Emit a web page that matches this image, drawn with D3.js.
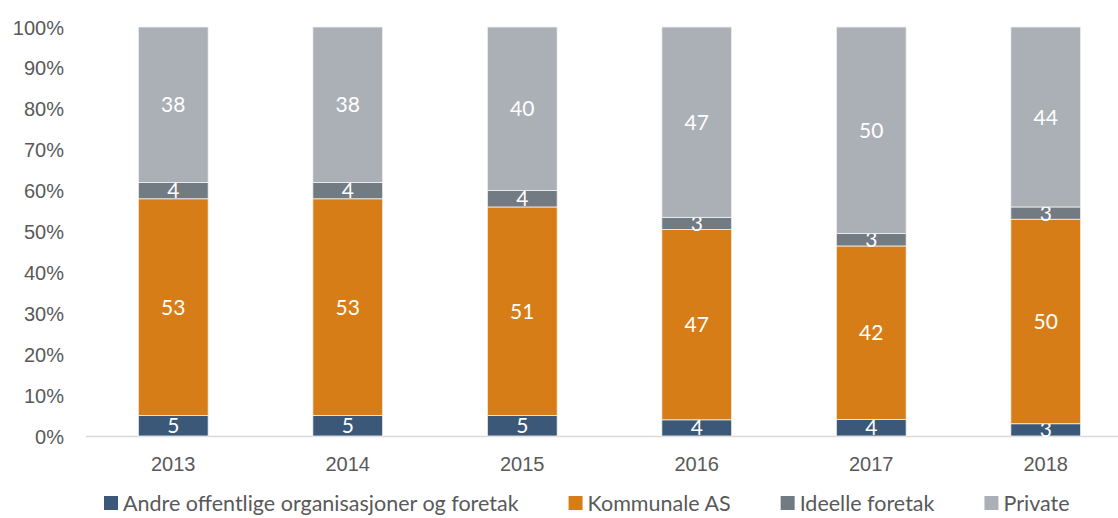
<!DOCTYPE html>
<html>
  <head>
    <meta charset="utf-8">
    <title></title>
  </head>
  <style>
  body{
      margin: 0;
      font-family: "Lato", "Open Sans", sans-serif;
      background: #fff;
    }
  .axis-y .domain, .axis-x .domain { display: none; }
  .axis-y .tick line, .axis-x .tick line { display: none; }
  .tick text { fill: #595959; font-size: 20px; }
  </style>
  <script src="https://d3js.org/d3.v7.min.js"></script>
  <body>
    <script>
    // data
    const years = ["2013", "2014", "2015", "2016", "2017", "2018"]
    const seriesNames = ["Andre offentlige organisasjoner og foretak", "Kommunale AS", "Ideelle foretak", "Private"]
    const andre = [5, 5, 5, 4, 4, 3]
    const kommunale = [53, 53, 51, 47, 42, 50]
    const ideelle = [4, 4, 4, 3, 3, 3]
    const privat = [38, 38, 40, 47, 50, 44]
    const yTicks = [0, 0.1, 0.2, 0.3, 0.4, 0.5, 0.6, 0.7, 0.8, 0.9, 1]

    const colors = ["#3b5878", "#d67d17", "#727a82", "#abb0b6"]

    var W = 1118, H = 518
    var svg = d3.select("body").append("svg")
                .attr("width", W).attr("height", H)

    // build table for stack
    var table = years.map(function(y, i){
      return { year: y, s0: andre[i], s1: kommunale[i], s2: ideelle[i], s3: privat[i] }
    })
    var keys = ["s0", "s1", "s2", "s3"]
    var stack = d3.stack().keys(keys).offset(d3.stackOffsetExpand)
    var series = stack(table)

    var xScale = d3.scaleBand().domain(years).range([86, 1133]).paddingInner(0.6).paddingOuter(0.3)
    var yScale = d3.scaleLinear().domain([0, 1]).range([436, 27])

    // y axis
    svg.append("g")
       .attr("class", "axis-y")
       .attr("transform", "translate(70,0)")
       .call(d3.axisLeft(yScale).tickValues(yTicks).tickFormat(d3.format(".0%")).tickSize(0).tickPadding(6))
    svg.selectAll(".axis-y .tick text").attr("dy", "0.35em")

    // baseline
    svg.append("line")
       .attr("x1", 86).attr("x2", W)
       .attr("y1", yScale(0) + 0.5).attr("y2", yScale(0) + 0.5)
       .attr("stroke", "#d9d9d9").attr("stroke-width", 1.5)

    // x axis
    svg.append("g")
       .attr("class", "axis-x")
       .attr("transform", "translate(0," + yScale(0) + ")")
       .call(d3.axisBottom(xScale).tickSize(0).tickPadding(21))

    // bars
    var groups = svg.append("g").selectAll("g")
       .data(series).enter().append("g")
       .attr("fill", function(d, i){ return colors[i] })

    groups.selectAll("rect")
       .data(function(d){ return d })
       .enter().append("rect")
       .attr("x", function(d){ return xScale(d.data.year) })
       .attr("width", xScale.bandwidth())
       .attr("y", function(d){ return yScale(d[1]) })
       .attr("height", function(d){ return yScale(d[0]) - yScale(d[1]) })
       .attr("stroke", "#f2f2f2").attr("stroke-width", 0.8)

    // labels
    groups.each(function(s){
      d3.select(this).selectAll("text")
        .data(s).enter().append("text")
        .attr("x", function(d){ return xScale(d.data.year) + xScale.bandwidth() / 2 })
        .attr("y", function(d){ return (yScale(d[0]) + yScale(d[1])) / 2 })
        .attr("dy", "0.36em")
        .attr("text-anchor", "middle")
        .attr("fill", "#fff")
        .attr("font-size", "21px")
        .text(function(d){ return d.data[s.key] })
    })

    // legend
    var legend = svg.append("g").attr("transform", "translate(0,503)")
    var lx = 104
    seriesNames.forEach(function(name, i){
      var g = legend.append("g").attr("transform", "translate(" + lx + ",0)")
      g.append("rect").attr("x", 0).attr("y", -7).attr("width", 14).attr("height", 14).attr("fill", colors[i])
      var t = g.append("text").attr("x", 19).attr("dy", "0.36em")
               .attr("fill", "#595959").attr("font-size", "21.5px").text(name)
      lx += 19 + t.node().getComputedTextLength() + 50
    })

    </script>
  </body>
</html>
